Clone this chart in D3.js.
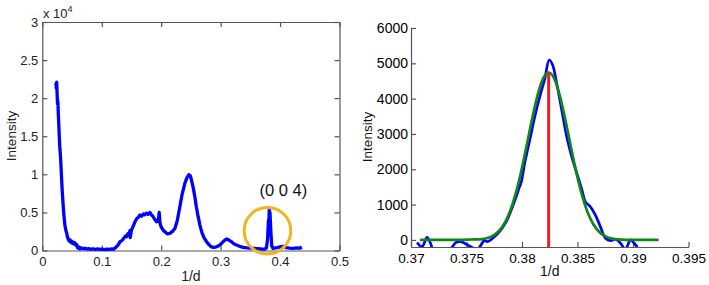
<!DOCTYPE html>
<html><head><meta charset="utf-8">
<script src="https://cdn.jsdelivr.net/npm/d3@7"></script>
<style>
body{margin:0;background:#fff;}
svg{display:block;font-family:"Liberation Sans",Arial,sans-serif;}
</style></head>
<body><svg id="c" width="709" height="285"></svg>
<script>
// ---------- data: left panel (full pattern) ----------
const leftX = [0.0230,0.0236,0.0242,0.0250,0.0256,0.0262,0.0270,0.0278,0.0286,0.0294,0.0302,0.0310,0.0318,0.0326,0.0334,0.0342,0.0352,0.0364,0.0376,0.0387,0.0398,0.0410,0.0422,0.0437,0.0450,0.0465,0.0478,0.0493,0.0507,0.0521,0.0535,0.0549,0.0563,0.0577,0.0590,0.0605,0.0620,0.0633,0.0660,0.0690,0.0720,0.0750,0.0780,0.0810,0.0850,0.0890,0.0930,0.0970,0.1010,0.1050,0.1090,0.1130,0.1170,0.1200,0.1230,0.1260,0.1290,0.1306,0.1340,0.1370,0.1400,0.1418,0.1440,0.1460,0.1474,0.1480,0.1500,0.1530,0.1560,0.1590,0.1620,0.1642,0.1670,0.1700,0.1726,0.1750,0.1780,0.1810,0.1840,0.1866,0.1890,0.1922,0.1950,0.1967,0.1980,0.2000,0.2030,0.2062,0.2100,0.2146,0.2190,0.2230,0.2270,0.2314,0.2350,0.2398,0.2430,0.2466,0.2490,0.2510,0.2540,0.2566,0.2590,0.2622,0.2650,0.2680,0.2720,0.2763,0.2800,0.2840,0.2875,0.2920,0.2958,0.3000,0.3042,0.3070,0.3100,0.3130,0.3160,0.3183,0.3220,0.3267,0.3320,0.3378,0.3450,0.3546,0.3620,0.3680,0.3740,0.3771,0.3790,0.3805,0.3812,0.3818,0.3824,0.3830,0.3845,0.3860,0.3880,0.3950,0.4020,0.4050,0.4100,0.4160,0.4218,0.4280,0.4330,0.4366];
const leftY = [22000,21300,22100,20400,19200,19600,17800,16400,14900,13600,12800,11800,10500,9200,8000,7000,5800,4600,3600,3000,2600,2300,1800,1500,1250,1400,1100,1200,950,1100,850,1000,700,800,400,300,450,200,350,220,300,180,250,160,230,150,200,140,190,130,180,140,200,160,350,600,900,1160,1300,1600,1900,1810,2200,2000,2600,1700,2700,3200,3780,4200,4400,4660,4500,4800,4700,4900,4750,5000,4650,4440,4100,3780,3900,5000,3600,3100,2700,2470,2200,2250,2500,2900,3900,5750,7300,8820,9500,9950,9800,9250,8200,7060,5800,4440,3400,2470,1700,1160,800,500,420,450,590,800,1160,1350,1510,1400,1250,1160,900,720,550,420,350,290,250,200,180,350,1500,4000,3600,5400,4800,5000,2500,600,290,380,500,550,380,300,290,350,300,450];
const leftXTicks = [0,0.1,0.2,0.3,0.4,0.5];
const leftYTicks = [0,5000,10000,15000,20000,25000,30000];
const leftYTickLabels = ["0","0.5","1","1.5","2","2.5","3"];
const markerLabel = "(0 0 4)";
const markerX = 0.3788, markerY = 2600;

// ---------- data: right panel (004 peak) ----------
const peakX = [0.37055,0.3710,0.37145,0.37176,0.3720,0.3735,0.37403,0.37448,0.37494,0.3754,0.3760,0.3766,0.3769,0.37736,0.37797,0.37858,0.37903,0.37948,0.37973,0.37994,0.38024,0.3807,0.38115,0.3816,0.38206,0.38245,0.38276,0.38312,0.38358,0.38403,0.38448,0.38494,0.3854,0.3857,0.38615,0.3866,0.38706,0.38752,0.38797,0.38842,0.38888,0.3893,0.38979,0.3901,0.3904];
const peakY = [-75,-190,75,-94,-260,-260,-75,-47,-113,-190,-260,-19,-47,47,236,519,849,1226,1462,1650,2170,2830,3490,4057,4575,5094,4953,4434,3680,2925,2358,1887,1415,1085,943,708,377,47,-19,19,-94,-260,0,-94,-200];
const fitX = [0.3708,0.3744,0.3754,0.3764,0.3769,0.3774,0.3779,0.3784,0.3789,0.3794,0.3799,0.3804,0.3809,0.3814,0.3819,0.3824,0.3829,0.3834,0.3839,0.3844,0.3849,0.3854,0.3859,0.3864,0.3869,0.3874,0.3879,0.3884,0.3894,0.3923];
const fitY = [0,2,12,25,57,123,246,458,791,1273,1902,2643,3412,4095,4570,4740,4570,4095,3412,2643,1902,1273,791,458,246,123,57,25,4,0];
const centerX = 0.3824, centerY = 4740;
const rightXTicks = [0.37,0.375,0.38,0.385,0.39,0.395];
const rightYTicks = [0,1000,2000,3000,4000,5000,6000];

const svg = d3.select("#c");
const axisCol = "#555";

// ================= LEFT PANEL =================
const lx = d3.scaleLinear().domain([0,0.5]).range([42.3,339.5]);
const ly = d3.scaleLinear().domain([0,30000]).range([250.5,22]);

function styleAxis(g, col, fs){
  g.selectAll("path.domain").attr("stroke",axisCol).attr("stroke-width",1.2);
  g.selectAll(".tick line").attr("stroke",axisCol).attr("stroke-width",1.2);
  g.selectAll(".tick text").attr("fill",col).attr("font-size",fs).attr("font-family","'Liberation Sans',Arial,sans-serif");
}
const lb = svg.append("g").attr("transform","translate(0,250.5)")
  .call(d3.axisBottom(lx).tickValues(leftXTicks).tickFormat(d3.format("")).tickSizeInner(-5).tickSizeOuter(0).tickPadding(6));
styleAxis(lb,"#222",13);
const lt = svg.append("g").attr("transform","translate(0,22)")
  .call(d3.axisTop(lx).tickValues(leftXTicks).tickFormat("").tickSizeInner(-5).tickSizeOuter(0));
styleAxis(lt,"#222",13);
const ll = svg.append("g").attr("transform","translate(42.3,0)")
  .call(d3.axisLeft(ly).tickValues(leftYTicks).tickFormat((d,i)=>leftYTickLabels[i]).tickSizeInner(-5).tickSizeOuter(0).tickPadding(4));
styleAxis(ll,"#222",13);
const lr = svg.append("g").attr("transform","translate(339.5,0)")
  .call(d3.axisRight(ly).tickValues(leftYTicks).tickFormat("").tickSizeInner(-5).tickSizeOuter(0));
styleAxis(lr,"#222",13);

// exponent label
const ex = svg.append("text").attr("x",43).attr("y",18).attr("font-size",13).attr("fill","#222");
ex.append("tspan").text("x 10");
ex.append("tspan").attr("font-size",9).attr("dy",-6).text("4");

svg.append("text").attr("x",190.9).attr("y",281).attr("text-anchor","middle").attr("font-size",14).attr("fill","#222").text("1/d");
svg.append("text").attr("transform","translate(16,136) rotate(-90)").attr("text-anchor","middle").attr("font-size",13.5).attr("fill","#222").text("Intensity");

const leftLine = d3.line().x((d,i)=>lx(leftX[i])).y((d,i)=>ly(leftY[i]));
svg.append("path").datum(leftY).attr("d",leftLine).attr("fill","none").attr("stroke","#0000ff").attr("stroke-width",3.3).attr("stroke-linejoin","round");

svg.append("circle").attr("cx",lx(markerX)).attr("cy",ly(markerY)).attr("r",23.3)
  .attr("fill","none").attr("stroke","#f2b31e").attr("stroke-width",3);
svg.append("text").attr("x",283.3).attr("y",196).attr("text-anchor","middle").attr("font-size",16.5).attr("fill","#111").text(markerLabel);

// ================= RIGHT PANEL =================
const rx = d3.scaleLinear().domain([0.37,0.395]).range([411,688.5]);
const ry = d3.scaleLinear().domain([-200,6000]).range([247,28]);

const rb = svg.append("g").attr("transform","translate(0,247)")
  .call(d3.axisBottom(rx).tickValues(rightXTicks).tickFormat(d3.format("")).tickSizeInner(-5).tickSizeOuter(0).tickPadding(6));
styleAxis(rb,"#000",13.5);
const rl = svg.append("g").attr("transform","translate(411,0)")
  .call(d3.axisLeft(ry).tickValues(rightYTicks).tickFormat(d3.format("d")).tickSizeInner(-5).tickSizeOuter(0).tickPadding(3));
styleAxis(rl,"#000",14);

svg.append("text").attr("x",549.75).attr("y",276).attr("text-anchor","middle").attr("font-size",14).attr("fill","#111").text("1/d");
svg.append("text").attr("transform","translate(372,137) rotate(-90)").attr("text-anchor","middle").attr("font-size",13.5).attr("fill","#111").text("Intensity");

svg.append("defs").append("clipPath").attr("id","rclip").append("rect")
  .attr("x",411).attr("y",20).attr("width",290).attr("height",227);
const pLine = d3.line().x((d,i)=>rx(peakX[i])).y((d,i)=>ry(peakY[i])).curve(d3.curveCatmullRom);
svg.append("path").datum(peakY).attr("d",pLine).attr("clip-path","url(#rclip)")
  .attr("fill","none").attr("stroke","#0000ff").attr("stroke-width",2.7).attr("stroke-linejoin","round");
const fLine = d3.line().x((d,i)=>rx(fitX[i])).y((d,i)=>ry(fitY[i])).curve(d3.curveMonotoneX);
svg.append("path").datum(fitY).attr("d",fLine)
  .attr("fill","none").attr("stroke","#118811").attr("stroke-width",2.7);
svg.append("line").attr("x1",rx(centerX)).attr("x2",rx(centerX)).attr("y1",ry(-200)).attr("y2",ry(centerY))
  .attr("stroke","#ee1c24").attr("stroke-width",3);
</script></body></html>
